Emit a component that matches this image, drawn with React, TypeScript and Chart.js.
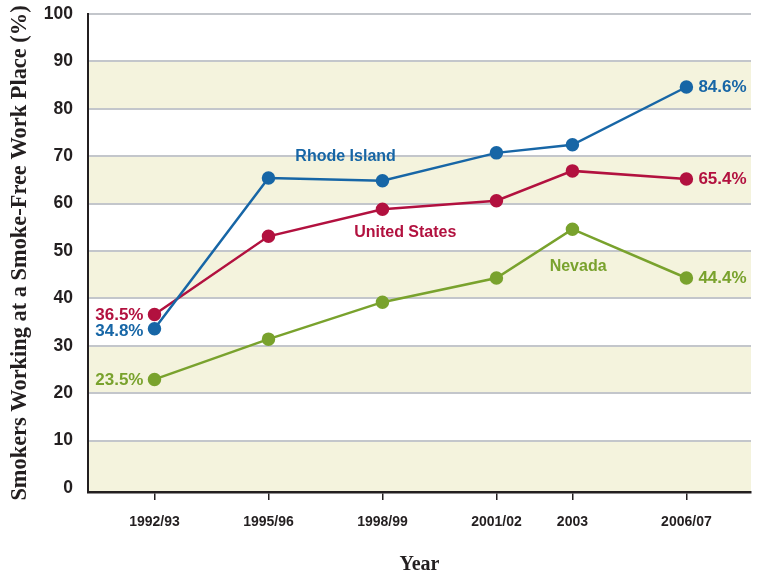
import React, { useEffect, useRef } from "react";
import { Chart, registerables } from "chart.js";

Chart.register(...registerables);

// ---- data ----
const yearLabels = ["1992/93", "1995/96", "1998/99", "2001/02", "2003", "2006/07"];
const yearPositions = [1992.5, 1995.5, 1998.5, 2001.5, 2003.5, 2006.5];

const rhodeIsland = [33.6, 65.4, 64.8, 70.7, 72.4, 84.6];
const unitedStates = [36.6, 53.1, 58.8, 60.6, 66.9, 65.2];
const nevada = [22.9, 31.4, 39.2, 44.3, 54.6, 44.3];

const rhodeIslandEndLabels = ["34.8%", "84.6%"];
const unitedStatesEndLabels = ["36.5%", "65.4%"];
const nevadaEndLabels = ["23.5%", "44.4%"];

const seriesNames = ["Rhode Island", "United States", "Nevada"];
const yTickValues = [0, 10, 20, 30, 40, 50, 60, 70, 80, 90, 100];
const shadedBands = [
  [0, 10],
  [20, 30],
  [40, 50],
  [60, 70],
  [80, 90],
];

// ---- styles ----
const BLUE = "#1766a6";
const RED = "#b2113f";
const GREEN = "#79a22d";
const INK = "#231f20";
const BAND = "#f4f3dd";
const GRID = "#c3c6cb";
const SANS = "'Liberation Sans', Arial, Helvetica, sans-serif";
const SERIF = "'Liberation Serif', 'Times New Roman', serif";

// series-name label anchors (data coordinates)
const nameAnchors = [
  { x: 1997.53, y: 69.9 },
  { x: 1999.1, y: 53.85 },
  { x: 2003.65, y: 46.7 },
];

const bandPlugin = {
  id: "bands",
  beforeDraw(chart: any) {
    const { ctx, chartArea, scales } = chart;
    const y = scales.y;
    ctx.save();
    ctx.fillStyle = BAND;
    shadedBands.forEach(([lo, hi]) => {
      const top = y.getPixelForValue(hi);
      const bottom = lo === 0 ? chartArea.bottom : y.getPixelForValue(lo);
      ctx.fillRect(chartArea.left, top, chartArea.right - chartArea.left, bottom - top);
    });
    ctx.restore();
  },
};

const labelPlugin = {
  id: "pointLabels",
  afterDatasetsDraw(chart: any) {
    const { ctx, scales } = chart;
    const endLabels = [rhodeIslandEndLabels, unitedStatesEndLabels, nevadaEndLabels];
    const colors = [BLUE, RED, GREEN];
    ctx.save();
    ctx.textBaseline = "middle";
    chart.data.datasets.forEach((ds: any, di: number) => {
      const meta = chart.getDatasetMeta(di);
      const first = meta.data[0];
      const last = meta.data[meta.data.length - 1];
      ctx.fillStyle = colors[di];
      ctx.font = `bold 17px ${SANS}`;
      ctx.textAlign = "right";
      const firstDy = di === 0 ? 2.5 : 1;
      ctx.fillText(endLabels[di][0], first.x - 11, first.y + firstDy);
      ctx.textAlign = "left";
      ctx.fillText(endLabels[di][1], last.x + 12, last.y + 0.5);
      // series name
      ctx.font = `bold 16px ${SANS}`;
      ctx.textAlign = "center";
      const a = nameAnchors[di];
      ctx.fillText(seriesNames[di], scales.x.getPixelForValue(a.x), scales.y.getPixelForValue(a.y));
    });
    ctx.restore();
  },
};

function makeDataset(label: string, values: number[], color: string) {
  return {
    label,
    data: yearPositions.map((x, i) => ({ x, y: values[i] })),
    borderColor: color,
    backgroundColor: color,
    pointBackgroundColor: color,
    pointBorderColor: color,
    pointRadius: 5.5,
    pointHoverRadius: 5.5,
    borderWidth: 2.5,
    tension: 0,
  };
}

export default function App() {
  const canvasRef = useRef<HTMLCanvasElement | null>(null);

  useEffect(() => {
    if (!canvasRef.current) return;
    const chart = new Chart(canvasRef.current, {
      type: "line",
      data: {
        datasets: [
          makeDataset(seriesNames[0], rhodeIsland, BLUE),
          makeDataset(seriesNames[1], unitedStates, RED),
          makeDataset(seriesNames[2], nevada, GREEN),
        ],
      },
      options: {
        animation: false,
        responsive: false,
        maintainAspectRatio: false,
        layout: { padding: { left: 0, right: 7, top: 14, bottom: 0 } },
        plugins: {
          legend: { display: false },
          tooltip: { enabled: false },
        },
        scales: {
          x: {
            type: "linear",
            min: 1990.75,
            max: 2008.2,
            afterBuildTicks: (scale: any) => {
              scale.ticks = yearPositions.map((v) => ({ value: v }));
            },
            afterFit: (scale: any) => {
              scale.height = 577 - 492;
              scale.paddingLeft = 0;
              scale.paddingRight = 0;
            },
            grid: {
              drawOnChartArea: false,
              drawTicks: true,
              tickLength: 8,
              color: INK,
              lineWidth: 1.5,
            },
            border: { display: true, color: INK, width: 2.5 },
            ticks: {
              autoSkip: false,
              maxRotation: 0,
              minRotation: 0,
              padding: 14,
              color: INK,
              font: { family: SANS, size: 14, weight: "bold" },
              callback: (value: any) => {
                const i = yearPositions.indexOf(Number(value));
                return i >= 0 ? yearLabels[i] : "";
              },
            },
            title: {
              display: true,
              text: "Year",
              color: INK,
              font: { family: SERIF, size: 20, weight: "bold" },
              padding: { top: 0, bottom: 0 },
            },
          },
          y: {
            type: "linear",
            min: -0.85,
            max: 100,
            afterBuildTicks: (scale: any) => {
              scale.ticks = yTickValues.map((v) => ({ value: v }));
            },
            afterFit: (scale: any) => {
              scale.width = 88;
              scale.paddingTop = 0;
              scale.paddingBottom = 0;
            },
            grid: {
              drawTicks: false,
              color: (c: any) => (c.tick && c.tick.value === 0 ? "rgba(0,0,0,0)" : GRID),
              lineWidth: 2,
            },
            border: { display: true, color: INK, width: 2 },
            ticks: {
              padding: 15,
              color: INK,
              font: { family: SANS, size: 17.5, weight: "bold" },
            },
            title: {
              display: true,
              text: "Smokers Working at a Smoke-Free Work Place (%)",
              color: INK,
              font: { family: SERIF, size: 22.4, weight: "bold" },
              padding: { top: 7, bottom: 0 },
            },
          },
        },
      },
      plugins: [bandPlugin, labelPlugin],
    } as any);
    return () => chart.destroy();
  }, []);

  return (
    <div style={{ position: "fixed", left: 0, top: 0, width: 759, height: 577, background: "#fff" }}>
      <canvas ref={canvasRef} width={759} height={577} style={{ width: 759, height: 577, display: "block" }} />
    </div>
  );
}
